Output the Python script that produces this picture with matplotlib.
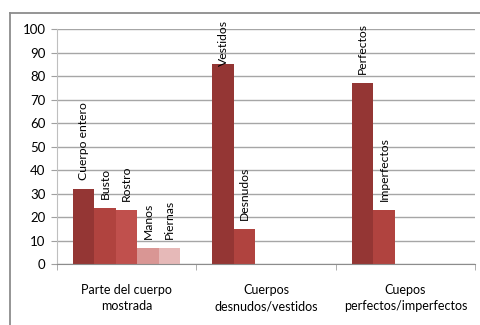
import numpy as np
import matplotlib.pyplot as plt
from matplotlib.lines import Line2D

plt.rcParams['font.family'] = ['Lato', 'DejaVu Sans']

categories = ['Parte del cuerpo\nmostrada', 'Cuerpos\ndesnudos/vestidos', 'Cuepos\nperfectos/imperfectos']
# one series per bar slot inside a group (Excel style clustered columns)
serie1 = [32, 85, 77]
serie2 = [24, 15, 23]
serie3 = [23, 0, 0]
serie4 = [7, 0, 0]
serie5 = [7, 0, 0]
series = [serie1, serie2, serie3, serie4, serie5]
bar_labels = [
    ['Cuerpo entero', 'Vestidos', 'Perfectos'],
    ['Busto', 'Desnudos', 'Imperfectos'],
    ['Rostro', None, None],
    ['Manos', None, None],
    ['Piernas', None, None],
]
colors = ['#943634', '#B0433F', '#C0504D', '#D99694', '#E6B9B8']
yticks = list(range(0, 101, 10))

fig = plt.figure(figsize=(4.81, 3.25), dpi=100)
ax = fig.add_axes([57/481, 1 - 264.3/325, 418/481, 235.3/325])

x = np.arange(len(categories))
w = 0.154
for i, vals in enumerate(series):
    pos = x + (i - 2) * w
    ax.bar(pos, vals, width=w, color=colors[i], zorder=3)
    for j, v in enumerate(vals):
        lab = bar_labels[i][j]
        if lab is None:
            continue
        # excel keeps the label inside the chart area, so the tall one sits lower
        off = 9 if v < 80 else -2
        ax.annotate(lab, (pos[j], v), xytext=(0, off * 0.72), textcoords='offset points',
                    rotation=90, ha='center', va='bottom', fontsize=8.7,
                    color='#000000', annotation_clip=False)

ax.set_xlim(-0.5, 2.5)
ax.set_ylim(0, 100)
ax.set_yticks(yticks)
ax.set_yticklabels([str(t) for t in yticks], fontsize=9.5)
ax.set_xticks(x)
ax.set_xticklabels(categories, fontsize=9, linespacing=1.45)
ax.set_xticks([-0.5, 0.5, 1.5, 2.5], minor=True)
ax.tick_params(axis='x', which='major', length=0, pad=14)
ax.tick_params(axis='x', which='minor', length=4, color='#A0A0A0', direction='out')
ax.tick_params(axis='y', length=4.3, color='#A0A0A0', pad=4)
ax.yaxis.grid(True, color='#A6A6A6', linewidth=1, zorder=0)

for s in ['top', 'right']:
    ax.spines[s].set_visible(False)
ax.spines['left'].set_color('#BFBFBF')
ax.spines['bottom'].set_color('#8C8C8C')
ax.spines['bottom'].set_zorder(4)

# outer chart border (only top and left visible in the crop)
fig.add_artist(Line2D([10/481, 10/481], [0, 1 - 13/325], transform=fig.transFigure,
                      color='#8C8C8C', linewidth=1.3))
fig.add_artist(Line2D([10/481, 1], [1 - 13/325, 1 - 13/325], transform=fig.transFigure,
                      color='#8C8C8C', linewidth=1.3))

fig.savefig('out.png', dpi=100)
